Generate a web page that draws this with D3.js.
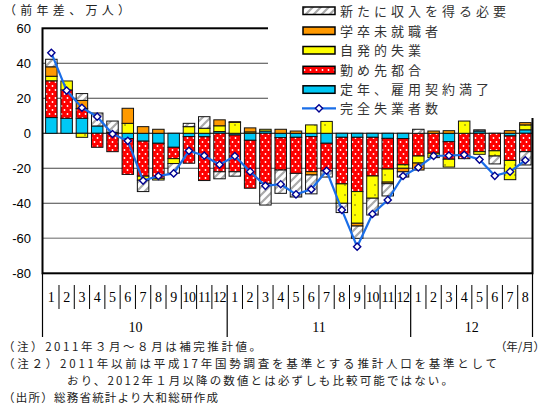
<!DOCTYPE html>
<html><head><meta charset="utf-8">
<script src="https://cdn.jsdelivr.net/npm/d3@7"></script>
<style>body{margin:0;background:#fff} svg{display:block}</style>
</head><body><svg id="c" width="551" height="410"></svg>
<script>
const months = ["1","2","3","4","5","6","7","8","9","10","11","12","1","2","3","4","5","6","7","8","9","10","11","12","1","2","3","4","5","6","7","8"];
const years = ["10","11","12"];
const yearCounts = [12,12,8];
const yTicks = [60,40,20,0,-20,-40,-60,-80];
const seriesNames = ["定年、雇用契約満了","勤め先都合","自発的失業","学卒未就職者","新たに収入を得る必要"];
const teinen   = [9,8.6,8.6,4.2,0.5,-3,-4.5,-5.7,-8,-1.9,-2,1,-1,-4,1.3,-2.5,-2.3,-1.9,-5.7,-2.3,-2.3,-2.3,-2.9,-3,0,0,-4.8,0,1.3,0,-1.5,2];
const kinmu    = [21,16.2,5.5,-8,-10.5,-20.5,-20,-20,-6.5,-15.2,-25,-22,-21,-27.4,-28.6,-18.5,-20.6,-20,-15.8,-26.6,-31,-22.1,-17.5,-15,-13,-11.4,-10,-14.5,-10.5,-10,-14,-10.5];
const jihatsu  = [2.6,5.1,-2.3,0,0,5.7,-2.3,-1,-2.8,3.8,2.9,3.3,6.3,0.8,1,0,0,4.8,6.8,-11.1,-18.1,-12.7,-7.5,-2,-4,-2.5,-4.5,7,-1.5,-3,-11,2.8];
const gakusotsu= [5.4,0,4.7,0,0,8.6,3.8,2.3,0,0,0,3.4,0.3,2.3,0,2.3,1.3,-1.9,0,0,-1.6,0,-0.9,-2,-4,1.3,1.5,0,0,0,1.5,1.3];
const arata    = [4.3,0,3.9,7.4,6.5,0,-6.5,0,-5.5,1.9,6.6,-4,-2.5,0,-12.4,-13.3,-13.5,-10.8,-3.5,-5.3,-7,-9.6,-7,-3,2.3,0,0,0,0.7,-4.5,0,-7.6];
const kanzen   = [46,24.4,14.6,9.5,-0.4,-4.3,-27,-24.4,-22.9,-10,-12.8,-17.9,-13,-21.9,-30,-29.1,-34.9,-32,-21.4,-43.8,-64.8,-46.1,-38.1,-24.4,-19.5,-12.9,-12.7,-12.3,-15,-24.3,-21.9,-15.4];
const lineName = "完全失業者数";

const svg = d3.select("#c");
const defs = svg.append("defs");
const pr = defs.append("pattern").attr("id","pRed").attr("patternUnits","userSpaceOnUse").attr("width",6).attr("height",8);
pr.append("rect").attr("width",6).attr("height",8).attr("fill","#ff0000");
pr.append("circle").attr("cx",1.5).attr("cy",2).attr("r",0.9).attr("fill","#fff");
pr.append("circle").attr("cx",4.5).attr("cy",6).attr("r",0.9).attr("fill","#fff");
const py = defs.append("pattern").attr("id","pYel").attr("patternUnits","userSpaceOnUse").attr("width",10).attr("height",10);
py.append("rect").attr("width",10).attr("height",10).attr("fill","#ffff00");
py.append("circle").attr("cx",5).attr("cy",5).attr("r",0.7).attr("fill","#333");
const ph = defs.append("pattern").attr("id","pHat").attr("patternUnits","userSpaceOnUse").attr("width",8).attr("height",8);
ph.append("rect").attr("width",8).attr("height",8).attr("fill","#fff");
ph.append("path").attr("d","M-2,10 L10,-2 M-2,2 L2,-2 M6,10 L10,6").attr("stroke","#aaa").attr("stroke-width",2.2);
const fills = ["#00c8f5","url(#pRed)","url(#pYel)","#ff9900","url(#pHat)"];

const L = 42.5, R = 532.5, T = 28.3, B = 273.3;
const x = d3.scaleBand().domain(d3.range(months.length)).range([43.7, 533]).paddingInner(0.25).paddingOuter(0.125);
const y = d3.scaleLinear().domain([-80,60]).range([B,T]);

svg.append("g").selectAll("line").data([40,20,0,-20,-40,-60]).join("line")
  .attr("x1",L).attr("x2",R).attr("y1",d=>y(d)).attr("y2",d=>y(d))
  .attr("stroke",d=>d===0?"#000":(d===-60?"#999":"#444")).attr("stroke-width",d=>d===-60?1.6:1.1);

const rows = months.map((m,i)=>({i, s0:teinen[i], s1:kinmu[i], s2:jihatsu[i], s3:gakusotsu[i], s4:arata[i]}));
const keys = ["s0","s1","s2","s3","s4"];
const stacked = d3.stack().keys(keys).offset(d3.stackOffsetDiverging)(rows);
const bg = svg.append("g");
stacked.forEach((layer,k)=>{
  bg.append("g").selectAll("rect").data(layer.filter(d=>Math.abs(d[1]-d[0])>0.01)).join("rect")
    .attr("x",d=>x(d.data.i)).attr("width",x.bandwidth())
    .attr("y",d=>y(Math.max(d[0],d[1]))).attr("height",d=>Math.abs(y(d[0])-y(d[1])))
    .attr("fill",fills[k]).attr("stroke","#111").attr("stroke-width",1);
});

const lineGen = d3.line().x((d,i)=>x(i)+x.bandwidth()/2).y(d=>y(d));
svg.append("path").attr("d",lineGen(kanzen)).attr("fill","none").attr("stroke","#1a6ee8").attr("stroke-width",2.2);
const dia = s=>`M0,${-s} L${s},0 L0,${s} L${-s},0 Z`;
svg.append("g").selectAll("path").data(kanzen).join("path")
  .attr("transform",(d,i)=>`translate(${x(i)+x.bandwidth()/2},${y(d)})`)
  .attr("d",dia(3.6)).attr("fill","#fff").attr("stroke","#000090").attr("stroke-width",1.4);

svg.append("rect").attr("x",L).attr("y",T).attr("width",R-L).attr("height",B-T).attr("fill","none").attr("stroke","#000").attr("stroke-width",2);

svg.append("g").selectAll("text").data(yTicks).join("text")
  .attr("x",31).attr("y",d=>y(d)+4.5).attr("text-anchor","end")
  .attr("font-family","Liberation Sans, Arial, sans-serif").attr("font-size",13).text(d=>d);

const step = x.step();
const x0 = x.range()[0];
const bnd = i => x0 + i*step;
const yearBounds = [0,12,24,32];
svg.append("g").selectAll("line").data(d3.range(1,32).filter(i=>!yearBounds.includes(i))).join("line")
  .attr("x1",d=>bnd(d)).attr("x2",d=>bnd(d)).attr("y1",285).attr("y2",309).attr("stroke","#000").attr("stroke-width",1);
svg.append("g").selectAll("line").data(yearBounds).join("line")
  .attr("x1",d=>d===0?L:(d===32?R:bnd(d))).attr("x2",d=>d===0?L:(d===32?R:bnd(d)))
  .attr("y1",d=>(d===0||d===32)?B:285).attr("y2",337).attr("stroke","#000").attr("stroke-width",1.2);
svg.append("g").selectAll("text").data(months).join("text")
  .attr("x",(d,i)=>x(i)+x.bandwidth()/2).attr("y",302).attr("text-anchor","middle")
  .attr("font-family","Liberation Serif, serif").attr("font-size",14).attr("letter-spacing",d=>d.length>1?-0.5:0).text(d=>d);
let acc = 0;
const yearPos = yearCounts.map(c=>{const p=(bnd(acc)+bnd(acc+c))/2; acc+=c; return p;});
svg.append("g").selectAll("text").data(years).join("text")
  .attr("x",(d,i)=>yearPos[i]).attr("y",332).attr("text-anchor","middle")
  .attr("font-family","Liberation Serif, serif").attr("font-size",14).text(d=>d);

const jp = "Noto Sans CJK JP, sans-serif";
svg.append("text").attr("x",4).attr("y",14.5).attr("font-family",jp).attr("font-size",12).attr("fill","#222")
  .attr("textLength",126).attr("lengthAdjust","spacing").text("（前年差、万人）");

const lg = svg.append("g");
lg.append("rect").attr("x",268).attr("y",0).attr("width",283).attr("height",118).attr("fill","#fff");
const legItems = [4,3,2,1,0];
const legY = [10.5,30.5,50,69.8,89.3,108.3];
legItems.forEach((k,j)=>{
  lg.append("rect").attr("x",303).attr("y",legY[j]-3.5).attr("width",32).attr("height",7.5)
    .attr("fill",fills[k]).attr("stroke","#000").attr("stroke-width",1.5);
  lg.append("text").attr("x",340).attr("y",legY[j]+5).attr("font-family",jp).attr("font-size",13).attr("fill","#333")
    .attr("textLength",seriesNames[k].length*17-4).attr("lengthAdjust","spacing").text(seriesNames[k]);
});
lg.append("line").attr("x1",302).attr("x2",336).attr("y1",legY[5]).attr("y2",legY[5]).attr("stroke","#1a6ee8").attr("stroke-width",2.2);
lg.append("path").attr("transform",`translate(319,${legY[5]})`).attr("d",dia(3.6)).attr("fill","#fff").attr("stroke","#000090").attr("stroke-width",1.4);
lg.append("text").attr("x",340).attr("y",legY[5]+5).attr("font-family",jp).attr("font-size",13).attr("fill","#333")
  .attr("textLength",lineName.length*17-4).attr("lengthAdjust","spacing").text(lineName);

const notes = [
  {t:"（注）2011年３月～８月は補完推計値。", x:3, y:351, w:258},
  {t:"（年/月）", x:495, y:351, w:50},
  {t:"（注２）2011年以前は平成17年国勢調査を基準とする推計人口を基準として", x:3, y:368, w:494},
  {t:"おり、2012年１月以降の数値とは必ずしも比較可能ではない。", x:67, y:385, w:386},
  {t:"（出所）総務省統計より大和総研作成", x:3, y:402, w:215}
];
svg.append("g").selectAll("text").data(notes).join("text")
  .attr("x",d=>d.x).attr("y",d=>d.y).attr("font-family",jp).attr("font-size",11.5).attr("fill","#222")
  .attr("textLength",d=>d.w).attr("lengthAdjust","spacing").text(d=>d.t);
</script></body></html>
